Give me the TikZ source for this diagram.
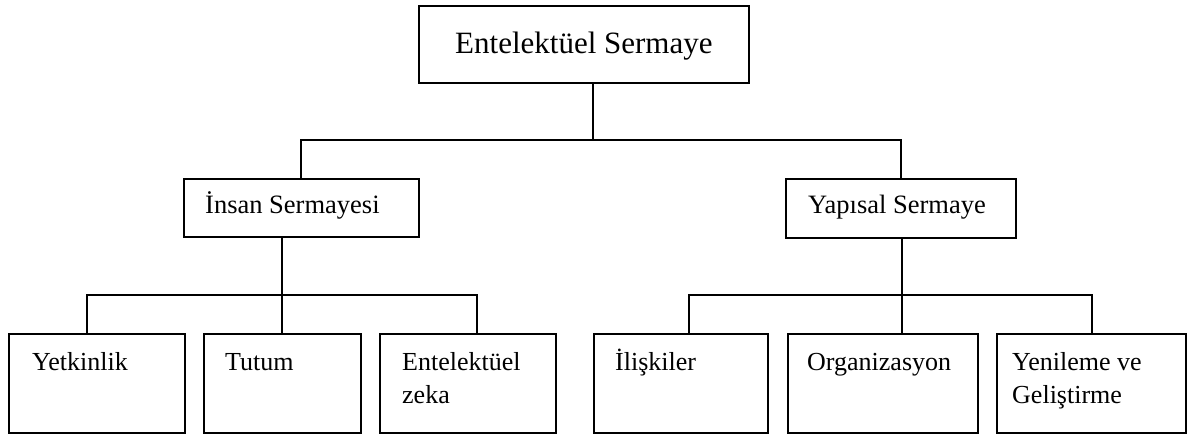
\documentclass[tikz,border=0pt]{standalone}
\usepackage{fontspec}
\setmainfont{Liberation Serif}
\begin{document}
\begin{tikzpicture}[x=1pt,y=-1pt,
  box/.style={draw, line width=1.5pt, inner sep=0pt, anchor=north west},
  conn/.style={line width=1.5pt},
  lbl/.style={inner sep=0pt, anchor=base west, align=left},
  big/.style={font=\fontsize{31}{36}\selectfont},
  mid/.style={font=\fontsize{26.5}{32}\selectfont},
  small/.style={font=\fontsize{26}{33}\selectfont}]
\useasboundingbox (0,0) rectangle (1192,437);

% boxes
\node[box, minimum width=330pt, minimum height=77pt] (top) at (418,5) {};
\node[box, minimum width=235pt, minimum height=58pt] (insan) at (183,178) {};
\node[box, minimum width=230pt, minimum height=59pt] (yap) at (785,178) {};
\node[box, minimum width=176pt, minimum height=99pt] (yet) at (8,333) {};
\node[box, minimum width=157pt, minimum height=99pt] (tut) at (203,333) {};
\node[box, minimum width=176pt, minimum height=99pt] (ent) at (379,333) {};
\node[box, minimum width=174pt, minimum height=99pt] (ili) at (593,333) {};
\node[box, minimum width=190pt, minimum height=99pt] (org) at (787,333) {};
\node[box, minimum width=189pt, minimum height=99pt] (yen) at (996,333) {};

% labels (a two-line label sits on the baseline of its last line)
\node[lbl, big] (ttop) at (455,53) {Entelektüel Sermaye};
\node[lbl, mid] (tinsan) at (205,213) {İnsan Sermayesi};
\node[lbl, mid] (tyap) at (808,213) {Yapısal Sermaye};
\node[lbl, small] (tyet) at (32,370) {Yetkinlik};
\node[lbl, small] (ttut) at (225,370) {Tutum};
\node[lbl, small] (tent) at (402,403) {Entelektüel\\zeka};
\node[lbl, small] (tili) at (615,370) {İlişkiler};
\node[lbl, small] (torg) at (807,370) {Organizasyon};
\node[lbl, small] (tyen) at (1012,403) {Yenileme ve\\Geliştirme};

% junction points
\coordinate (j1) at (593,140);
\coordinate (b1l) at (301,140);
\coordinate (b1r) at (901,140);
\coordinate (j2) at (282,295);
\coordinate (b2l) at (87,295);
\coordinate (b2r) at (477,295);
\coordinate (j3) at (902,295);
\coordinate (b3l) at (689,295);
\coordinate (b3r) at (1092,295);

% first level
\draw[conn] (j1 |- top.south) -- (j1);
\draw[conn] (b1l |- insan.north) -- (b1l) -- (b1r) -- (b1r |- yap.north);

% human capital branch
\draw[conn] (j2 |- insan.south) -- (j2 |- tut.north);
\draw[conn] (b2l |- yet.north) -- (b2l) -- (b2r) -- (b2r |- ent.north);

% structural capital branch
\draw[conn] (j3 |- yap.south) -- (j3 |- org.north);
\draw[conn] (b3l |- ili.north) -- (b3l) -- (b3r) -- (b3r |- yen.north);
\end{tikzpicture}
\end{document}
